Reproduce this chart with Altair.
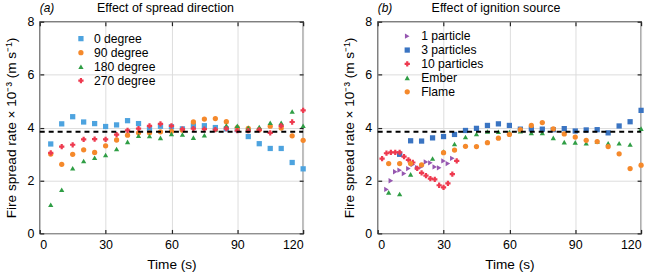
import altair as alt
import pandas as pd

FONT = "Liberation Sans"

# ---------------- panel (a): effect of spread direction ----------------
A_SERIES = ["0 degree", "90 degree", "180 degree", "270 degree"]
A_COLORS = ["#4DA3DF", "#F5892B", "#2F9E45", "#EE3A4F"]
CROSS = ("M-1,-0.42L-0.42,-0.42L-0.42,-1L0.42,-1L0.42,-0.42L1,-0.42L1,0.42"
         "L0.42,0.42L0.42,1L-0.42,1L-0.42,0.42L-1,0.42Z")
A_SHAPES = ["square", "circle", "triangle-up", CROSS]
A_TIME = [5, 10, 15, 20, 25, 30, 35, 40, 45, 50, 55, 60,
          65, 70, 75, 80, 85, 90, 95, 100, 105, 110, 115, 120]
A_0 = [3.38, 4.14, 4.41, 4.21, 4.15, 4.04, 4.10, 4.26, 4.15, 3.95, 4.05, 4.03,
       3.95, 4.07, 4.07, 4.00, 3.95, 3.92, 3.66, 3.39, 3.21, 3.21, 2.68, 2.44]
A_90 = [3.00, 2.61, 2.99, 3.16, 3.06, 3.31, 3.53, 3.71, 3.80, 3.80, 3.84, 3.86,
        3.90, 4.21, 4.32, 4.34, 4.22, 4.00, 3.97, 3.92, 4.05, 3.98, 3.69, 3.52]
A_180 = [1.08, 1.65, 2.46, 2.74, 2.86, 2.96, 3.19, 3.46, 3.69, 3.68, 3.61, 3.76,
         3.74, 3.62, 3.71, 3.93, 4.08, 4.07, 3.99, 4.02, 4.18, 4.18, 4.61, 4.07]
A_270 = [3.04, 3.28, 3.35, 3.55, 3.56, 3.55, 3.73, 3.89, 3.96, 4.06, 4.14, 4.06,
         3.94, 3.96, 3.94, 3.92, 3.96, 3.88, 3.88, 3.91, 3.80, 4.06, 4.21, 4.65]

# ---------------- panel (b): effect of ignition source ----------------
B_SERIES = ["1 particle", "3 particles", "10 particles", "Ember", "Flame"]
B_COLORS = ["#9657B0", "#3A74C2", "#EE3A4F", "#2F9E45", "#F5892B"]
B_SHAPES = ["triangle-right", "square", CROSS, "triangle-up", "circle"]
B1_TIME = [4, 6, 8, 10, 12, 14, 16, 18, 20, 22, 24, 26, 28, 30, 32, 34]
B1_RATE = [1.66, 1.99, 2.33, 2.39, 2.26, 2.45, 2.60, 2.49, 2.52, 2.70, 2.67, 2.51,
           2.48, 2.74, 2.64, 2.84]
B3_TIME = [10, 15, 20, 25, 30, 35, 40, 45, 50, 55, 60, 65, 70, 75, 80, 85, 90,
           95, 100, 105, 110, 115, 120]
B3_RATE = [2.99, 3.50, 3.49, 3.61, 3.66, 3.74, 3.89, 3.97, 4.08, 4.14, 4.08, 3.94,
           3.95, 3.94, 3.92, 3.96, 3.87, 3.91, 3.92, 3.80, 4.06, 4.22, 4.65]
B10_TIME = [2, 4, 6, 8, 10, 12, 14, 16, 18, 20, 22, 24, 26, 28, 30, 32, 34, 36]
B10_RATE = [2.83, 3.03, 3.06, 3.06, 3.06, 2.90, 2.78, 2.68, 2.46, 2.29, 2.18, 2.07,
            2.04, 1.82, 1.74, 1.89, 2.24, 2.74]
EMBER_TIME = [5, 10, 15, 25, 30, 35, 40, 45, 50, 55, 60, 65, 70, 75, 80, 85, 90,
              95, 100, 105, 110, 115, 120]
EMBER_RATE = [1.55, 1.49, 2.23, 2.83, 3.09, 3.38, 3.64, 3.76, 3.85, 3.84, 3.83, 3.86,
              3.80, 3.80, 3.61, 3.45, 3.44, 3.41, 3.47, 3.41, 3.41, 3.36, 3.96]
FLAME_TIME = [5, 10, 15, 20, 30, 35, 40, 45, 50, 55, 60, 65, 70, 75, 80, 85, 90,
              95, 100, 105, 110, 115, 120]
FLAME_RATE = [2.64, 2.64, 2.64, 2.59, 3.05, 3.15, 3.29, 3.28, 3.43, 3.60, 3.74, 3.92,
              4.08, 4.19, 3.95, 3.76, 3.64, 3.52, 3.47, 3.28, 3.01, 2.45, 2.58]

REF_RATE = 3.84          # dashed reference level
X_DOMAIN = [0, 120]
Y_DOMAIN = [0, 8]
X_TICKS = [0, 30, 60, 90, 120]
Y_TICKS = [0, 2, 4, 6, 8]
X_TITLE = "Time (s)"
Y_TITLE = "Fire spread rate \u00d7 10\u207b\u00b3 (m s\u207b\u00b9)"


def long_table(series_list):
    rows = []
    for name, times, rates in series_list:
        for t, r in zip(times, rates):
            rows.append({"series": name, "time": t, "rate": r})
    return pd.DataFrame(rows)


df_a = long_table([(A_SERIES[0], A_TIME, A_0), (A_SERIES[1], A_TIME, A_90),
                   (A_SERIES[2], A_TIME, A_180), (A_SERIES[3], A_TIME, A_270)])
df_b = long_table([(B_SERIES[0], B1_TIME, B1_RATE), (B_SERIES[1], B3_TIME, B3_RATE),
                   (B_SERIES[2], B10_TIME, B10_RATE), (B_SERIES[3], EMBER_TIME, EMBER_RATE),
                   (B_SERIES[4], FLAME_TIME, FLAME_RATE)])
ref_df = pd.DataFrame({"t0": [X_DOMAIN[0]], "t1": [X_DOMAIN[1]], "rate": [REF_RATE]})

TICK = dict(offset=-4, tickSize=4, domain=False, tickColor="#222", tickWidth=1.2)


def panel(df, series, colors, shapes, heading, tag, head_x, leg_x, leg_y, leg_off, leg_pad):
    xs = alt.Scale(domain=X_DOMAIN, nice=False)
    ys = alt.Scale(domain=Y_DOMAIN, nice=False)
    leg = alt.Legend(orient="none", legendX=leg_x, legendY=leg_y, title=None, padding=0,
                     labelFont=FONT, labelFontSize=12.25, labelColor="black",
                     symbolSize=28, symbolStrokeWidth=0, labelOffset=leg_off,
                     rowPadding=leg_pad)
    points = alt.Chart(df).mark_point(filled=True, size=28, opacity=1).encode(
        x=alt.X("time:Q", scale=xs,
                axis=alt.Axis(orient="bottom", values=X_TICKS, title=X_TITLE,
                              labelPadding=5, titlePadding=7, **TICK)),
        y=alt.Y("rate:Q", scale=ys,
                axis=alt.Axis(orient="left", values=Y_TICKS, title=Y_TITLE,
                              labelPadding=6, titlePadding=8, **TICK)),
        color=alt.Color("series:N", scale=alt.Scale(domain=series, range=colors), legend=leg),
        shape=alt.Shape("series:N", scale=alt.Scale(domain=series, range=shapes), legend=leg),
    )
    rule = alt.Chart(ref_df).mark_rule(color="black", strokeWidth=2, strokeDash=[5, 4]).encode(
        x=alt.X("t0:Q", scale=xs,
                axis=alt.Axis(orient="top", values=X_TICKS, labels=False, title=None, **TICK)),
        x2="t1:Q",
        y=alt.Y("rate:Q", scale=ys,
                axis=alt.Axis(orient="right", values=Y_TICKS, labels=False, title=None, **TICK)),
    )
    text_df = pd.DataFrame({"tag": [tag], "heading": [heading]})
    tag_txt = alt.Chart(text_df).mark_text(
        align="left", baseline="alphabetic", font=FONT, fontSize=12, fontStyle="italic",
        color="black").encode(x=alt.value(0), y=alt.value(-9.5), text="tag:N")
    head_txt = alt.Chart(text_df).mark_text(
        align="center", baseline="alphabetic", font=FONT, fontSize=12.5,
        color="black").encode(x=alt.value(head_x), y=alt.value(-9.5), text="heading:N")
    return alt.layer(points, rule, tag_txt, head_txt).resolve_axis(
        x="independent", y="independent").properties(width=265, height=213)


pa = panel(df_a, A_SERIES, A_COLORS, A_SHAPES, "Effect of spread direction", "(a)",
           126.5, 35.3, 10.9, 6.9, 1.1)
pb = panel(df_b, B_SERIES, B_COLORS, B_SHAPES, "Effect of ignition source", "(b)",
           119, 23.6, 8.4, 7.9, 1.0)

chart = alt.hconcat(pa, pb, spacing=75, bounds="flush").resolve_scale(
    color="independent", shape="independent").properties(
    padding={"left": 4, "top": 0, "right": 10, "bottom": 2},
    background="white").configure_view(
    stroke="#222", strokeWidth=1.3).configure_axis(
    labelFont=FONT, titleFont=FONT, labelFontSize=12.5, titleFontSize=13.7,
    labelColor="black", titleColor="black", titleFontWeight="normal")

chart.save("out.html", embed_options={"renderer": "svg", "actions": False})
